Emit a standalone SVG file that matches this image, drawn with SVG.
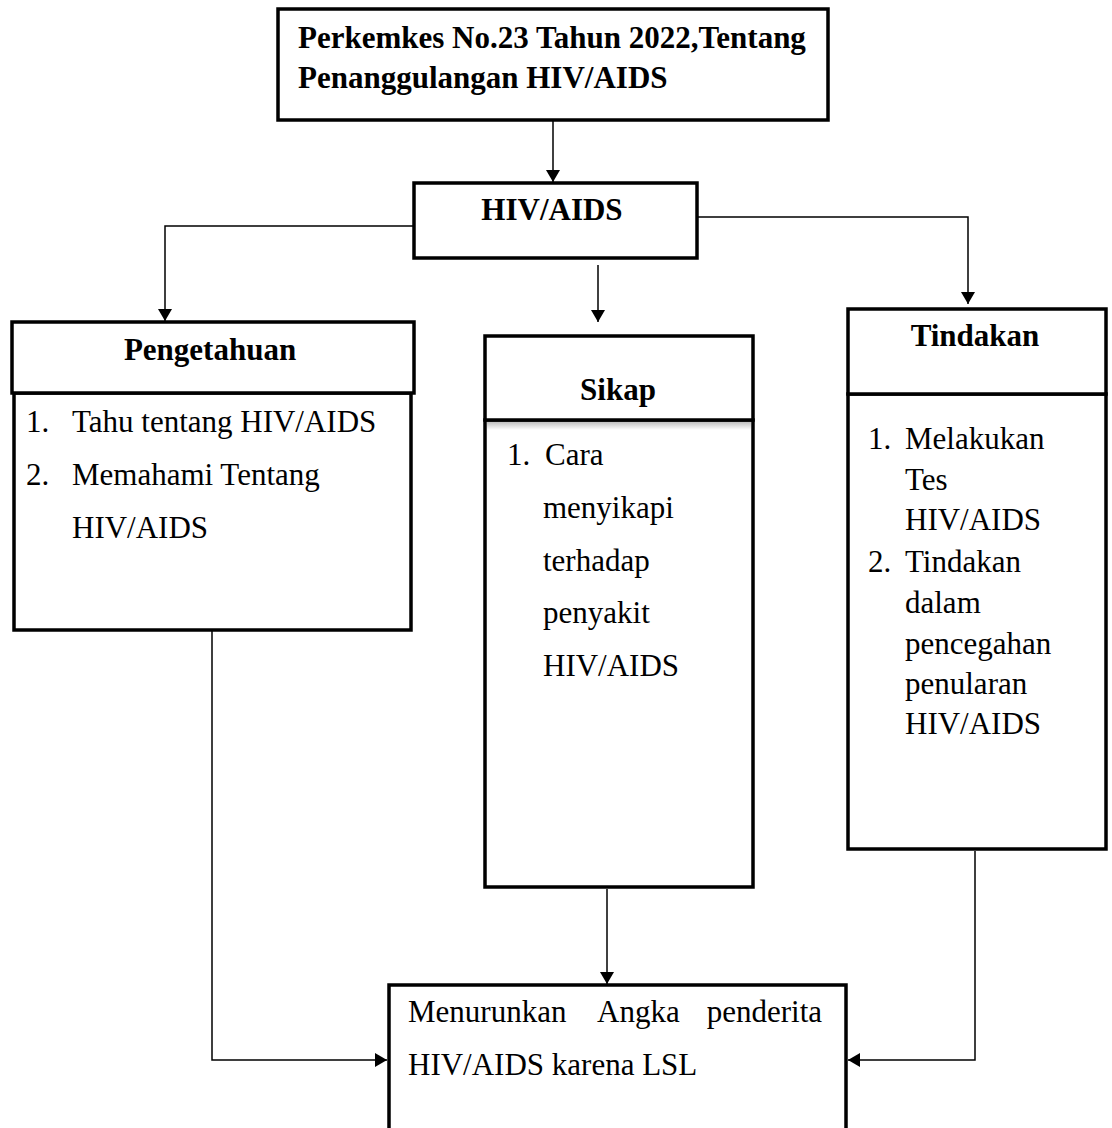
<svg xmlns="http://www.w3.org/2000/svg" width="1112" height="1128" viewBox="0 0 1112 1128">
<defs>
<marker id="ah" viewBox="0 0 12 14" refX="12" refY="7" markerWidth="12" markerHeight="14" markerUnits="userSpaceOnUse" orient="auto">
<path d="M0,0 L12,7 L0,14 Z" fill="#000"/>
</marker>
<linearGradient id="shadow" x1="0" y1="0" x2="0" y2="1">
<stop offset="0" stop-color="#000" stop-opacity="0.25"/>
<stop offset="1" stop-color="#000" stop-opacity="0"/>
</linearGradient>
</defs>
<style>
.box{fill:#fff;stroke:#000;stroke-width:3.5}
.t{font-family:"Liberation Serif","Times New Roman",serif;font-size:31px;fill:#000}
.b{font-weight:bold}
.c{fill:none;stroke:#000;stroke-width:1.5}
</style>
<rect width="1112" height="1128" fill="#fff"/>

<g id="connectors">
<line class="c" x1="553" y1="121" x2="553" y2="182" marker-end="url(#ah)"/>
<polyline class="c" points="413,226 165,226 165,321" marker-end="url(#ah)"/>
<polyline class="c" points="698,217 968,217 968,304" marker-end="url(#ah)"/>
<line class="c" x1="598" y1="265" x2="598" y2="322" marker-end="url(#ah)"/>
<polyline class="c" points="212,631 212,1060 387,1060" marker-end="url(#ah)"/>
<line class="c" x1="607" y1="889" x2="607" y2="984" marker-end="url(#ah)"/>
<polyline class="c" points="975,851 975,1060 848,1060" marker-end="url(#ah)"/>
</g>

<g id="node-perkemkes">
<rect class="box" x="278" y="9" width="550" height="111"/>
<text class="t b" x="298" y="48">Perkemkes No.23 Tahun 2022,Tentang</text>
<text class="t b" x="298" y="88">Penanggulangan HIV/AIDS</text>
</g>

<g id="node-hivaids">
<rect class="box" x="414" y="183" width="283" height="75"/>
<text class="t b" x="552" y="220" text-anchor="middle">HIV/AIDS</text>
</g>

<g id="node-pengetahuan">
<rect class="box" x="14" y="393" width="397" height="237"/>
<rect class="box" x="12" y="322" width="402" height="71"/>
<text class="t b" x="210" y="360" text-anchor="middle">Pengetahuan</text>
<text class="t" x="26" y="432">1.</text>
<text class="t" x="72" y="432">Tahu tentang HIV/AIDS</text>
<text class="t" x="26" y="485">2.</text>
<text class="t" x="72" y="485">Memahami Tentang</text>
<text class="t" x="72" y="538">HIV/AIDS</text>
</g>

<g id="node-sikap">
<rect class="box" x="485" y="420" width="268" height="467"/>
<rect x="487" y="422" width="264" height="8" fill="url(#shadow)"/>
<rect class="box" x="485" y="336" width="268" height="84"/>
<text class="t b" x="618" y="400" text-anchor="middle">Sikap</text>
<text class="t" x="507" y="465">1.</text>
<text class="t" x="545" y="465">Cara</text>
<text class="t" x="543" y="518">menyikapi</text>
<text class="t" x="543" y="571">terhadap</text>
<text class="t" x="543" y="623">penyakit</text>
<text class="t" x="543" y="676">HIV/AIDS</text>
</g>

<g id="node-tindakan">
<rect class="box" x="848" y="394" width="258" height="455"/>
<rect class="box" x="848" y="309" width="258" height="85"/>
<text class="t b" x="975" y="346" text-anchor="middle">Tindakan</text>
<text class="t" x="868" y="449">1.</text>
<text class="t" x="905" y="449">Melakukan</text>
<text class="t" x="905" y="490">Tes</text>
<text class="t" x="905" y="530">HIV/AIDS</text>
<text class="t" x="868" y="572">2.</text>
<text class="t" x="905" y="572">Tindakan</text>
<text class="t" x="905" y="613">dalam</text>
<text class="t" x="905" y="654">pencegahan</text>
<text class="t" x="905" y="694">penularan</text>
<text class="t" x="905" y="734">HIV/AIDS</text>
</g>

<g id="node-menurunkan">
<rect class="box" x="389" y="985" width="457" height="160"/>
<text class="t" x="408" y="1022">Menurunkan</text>
<text class="t" x="597" y="1022">Angka</text>
<text class="t" x="822" y="1022" text-anchor="end">penderita</text>
<text class="t" x="408" y="1075">HIV/AIDS karena LSL</text>
</g>
</svg>
